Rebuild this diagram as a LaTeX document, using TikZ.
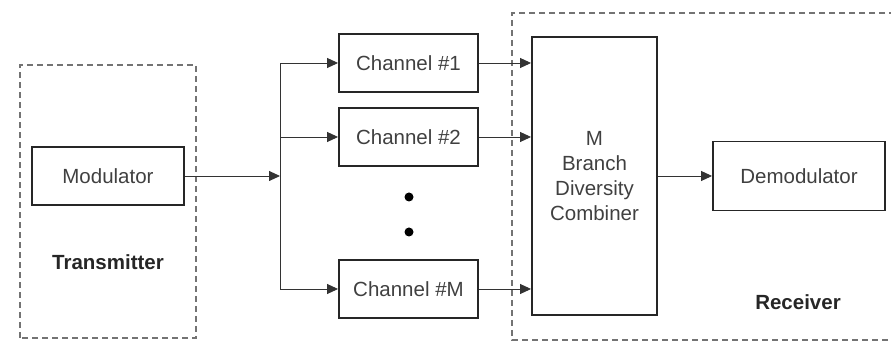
\documentclass[tikz,border=0pt]{standalone}
\usepackage{fontspec}
\setmainfont{Liberation Sans}
\usetikzlibrary{arrows.meta,calc}
\begin{document}
\begin{tikzpicture}[x=1pt,y=1pt,
  blk/.style={draw=black!85,line width=1.9pt,inner sep=0pt,text=black!75,font=\fontsize{20.5}{25}\selectfont},
  lbl/.style={text=black!85,font=\fontsize{20.5}{25}\selectfont\bfseries},
  conn/.style={draw=black!80,line width=0.9pt},
  arr/.style={conn,-{Triangle[length=11pt,width=10pt]}},
  dashbox/.style={draw=black!55,line width=1.1pt,dash pattern=on 6pt off 4pt}]
\useasboundingbox (0,0) rectangle (891,342);
% dashed groups
\draw[dashbox] (20,4) rectangle (196,277);
\draw[dashbox] (895,329) -- (512,329) -- (512,2) -- (895,2);
% blocks
\node[blk,minimum width=152pt,minimum height=58pt] (mod) at (108,166) {Modulator};
\node[lbl] (tx) at (108,80) {Transmitter};
\node[blk,minimum width=139pt,minimum height=58pt] (ch1) at (408.5,279) {Channel \#1};
\node[blk,minimum width=139pt,minimum height=58pt] (ch2) at (408.5,205) {Channel \#2};
\node[blk,minimum width=139pt,minimum height=58pt] (chM) at (408.5,53) {Channel \#M};
\node[circle,fill=black,inner sep=0pt,minimum size=9pt] (d1) at (409,145) {};
\node[circle,fill=black,inner sep=0pt,minimum size=9pt] (d2) at (409,110) {};
\node[blk,minimum width=125pt,minimum height=278pt,align=center] (comb) at (594.5,166) {M\\Branch\\Diversity\\Combiner};
\node[blk,minimum width=172pt,minimum height=69pt] (demod) at (799,166) {Demodulator};
\node[lbl] (rx) at (798,40) {Receiver};
\coordinate (j) at (280,166);
% connectors
\draw[arr] (mod.east) -- (j);
\draw[arr] (j) |- (ch1.west);
\draw[arr] (j) |- (chM.west);
\draw[arr] (j |- ch2.west) -- (ch2.west);
\draw[arr] (ch1.east) -- (ch1.east -| comb.west);
\draw[arr] (ch2.east) -- (ch2.east -| comb.west);
\draw[arr] (chM.east) -- (chM.east -| comb.west);
\draw[arr] (comb.east) -- (comb.east |- demod.west) -- (demod.west);
\end{tikzpicture}
\end{document}
